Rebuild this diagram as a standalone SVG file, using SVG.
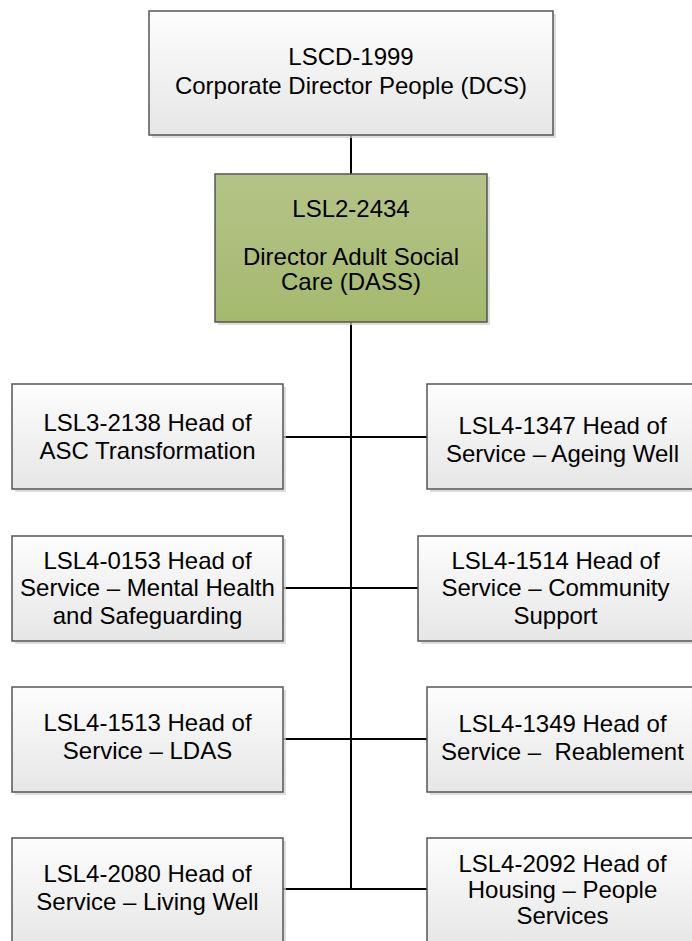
<svg xmlns="http://www.w3.org/2000/svg" width="692" height="941" viewBox="0 0 692 941">
<defs>
<linearGradient id="gGray" x1="0" y1="0" x2="0" y2="1">
<stop offset="0" stop-color="#fdfdfd"/>
<stop offset="1" stop-color="#e6e6e6"/>
</linearGradient>
<linearGradient id="gGreen" x1="0" y1="0" x2="0" y2="1">
<stop offset="0" stop-color="#b4c488"/>
<stop offset="1" stop-color="#a5b96e"/>
</linearGradient>
</defs>
<style>
.shadow{fill:#cfcfcf;opacity:0.7}
.box{fill:url(#gGray);stroke:#555555;stroke-width:1.5}
.green{fill:url(#gGreen);stroke:#555555;stroke-width:1.5}
.t{font-family:"Liberation Sans",Arial,sans-serif;font-size:24px;fill:#000;text-anchor:middle}
.c{stroke:#000;stroke-width:2;fill:none}
</style>
<rect width="692" height="941" fill="#ffffff"/>
<g id="connectors">
<line class="c" x1="351" y1="135" x2="351" y2="174"/>
<line class="c" x1="351" y1="322" x2="351" y2="889"/>
<line class="c" x1="283" y1="437" x2="427" y2="437"/>
<line class="c" x1="283" y1="588" x2="418" y2="588"/>
<line class="c" x1="283" y1="739" x2="427" y2="739"/>
<line class="c" x1="283" y1="889" x2="427" y2="889"/>
</g>
<g id="n-lscd1999">
<rect class="shadow" x="152" y="14" width="404" height="124"/>
<rect class="box" x="149" y="11" width="404" height="124"/>
<text class="t" x="351" y="65">LSCD-1999</text>
<text class="t" x="351" y="94">Corporate Director People (DCS)</text>
</g>
<g id="n-lsl2-2434">
<rect class="shadow" x="218" y="177" width="272" height="148"/>
<rect class="green" x="215" y="174" width="272" height="148"/>
<text class="t" x="351" y="217">LSL2-2434</text>
<text class="t" x="351" y="265">Director Adult Social</text>
<text class="t" x="351" y="290">Care (DASS)</text>
</g>
<g id="n-lsl3-2138">
<rect class="shadow" x="15" y="387" width="271" height="105"/>
<rect class="box" x="12" y="384" width="271" height="105"/>
<text class="t" x="147.5" y="431">LSL3-2138 Head of</text>
<text class="t" x="147.5" y="458.5">ASC Transformation</text>
</g>
<g id="n-lsl4-1347">
<rect class="shadow" x="430" y="387" width="275" height="105"/>
<rect class="box" x="427" y="384" width="275" height="105"/>
<text class="t" x="562.5" y="434">LSL4-1347 Head of</text>
<text class="t" x="562.5" y="461.5">Service – Ageing Well</text>
</g>
<g id="n-lsl4-0153">
<rect class="shadow" x="15" y="539" width="271" height="105"/>
<rect class="box" x="12" y="536" width="271" height="105"/>
<text class="t" x="147.5" y="568.5">LSL4-0153 Head of</text>
<text class="t" x="147.5" y="596">Service – Mental Health</text>
<text class="t" x="147.5" y="623.5">and Safeguarding</text>
</g>
<g id="n-lsl4-1514">
<rect class="shadow" x="421" y="539" width="285" height="105"/>
<rect class="box" x="418" y="536" width="285" height="105"/>
<text class="t" x="555.5" y="568.5">LSL4-1514 Head of</text>
<text class="t" x="555.5" y="596">Service – Community</text>
<text class="t" x="555.5" y="623.5">Support</text>
</g>
<g id="n-lsl4-1513">
<rect class="shadow" x="15" y="690" width="271" height="105"/>
<rect class="box" x="12" y="687" width="271" height="105"/>
<text class="t" x="147.5" y="731">LSL4-1513 Head of</text>
<text class="t" x="147.5" y="758.5">Service – LDAS</text>
</g>
<g id="n-lsl4-1349">
<rect class="shadow" x="430" y="690" width="275" height="105"/>
<rect class="box" x="427" y="687" width="275" height="105"/>
<text class="t" x="562.5" y="732">LSL4-1349 Head of</text>
<text class="t" x="562.5" y="759.5" xml:space="preserve">Service –  Reablement</text>
</g>
<g id="n-lsl4-2080">
<rect class="shadow" x="15" y="841" width="271" height="110"/>
<rect class="box" x="12" y="838" width="271" height="110"/>
<text class="t" x="147.5" y="882">LSL4-2080 Head of</text>
<text class="t" x="147.5" y="909.5">Service – Living Well</text>
</g>
<g id="n-lsl4-2092">
<rect class="shadow" x="430" y="841" width="275" height="110"/>
<rect class="box" x="427" y="838" width="275" height="110"/>
<text class="t" x="562.5" y="871.5">LSL4-2092 Head of</text>
<text class="t" x="562.5" y="898">Housing – People</text>
<text class="t" x="562.5" y="924">Services</text>
</g>
</svg>
